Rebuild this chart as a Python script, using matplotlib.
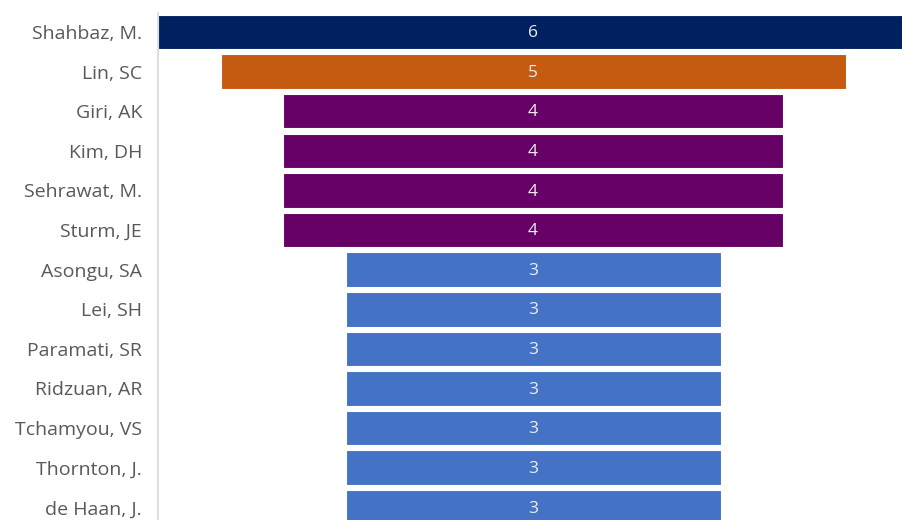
import matplotlib
matplotlib.use("Agg")
import matplotlib.pyplot as plt

# publication counts per author, drawn as a centred funnel
authors = ["Shahbaz, M.", "Lin, SC", "Giri, AK", "Kim, DH", "Sehrawat, M.",
           "Sturm, JE", "Asongu, SA", "Lei, SH", "Paramati, SR", "Ridzuan, AR",
           "Tchamyou, VS", "Thornton, J.", "de Haan, J."]
counts = [6, 5, 4, 4, 4, 4, 3, 3, 3, 3, 3, 3, 3]
colors = ["#002060", "#C55A11", "#660066", "#660066", "#660066", "#660066",
          "#4472C4", "#4472C4", "#4472C4", "#4472C4", "#4472C4", "#4472C4", "#4472C4"]

W, H = 902, 520
fig = plt.figure(figsize=(W / 100, H / 100), dpi=100)
ax = fig.add_axes([158 / W, 0, (W - 158) / W, (H - 13) / H])

ypos = list(range(len(authors)))
lefts = [-c / 2 for c in counts]
bars = ax.barh(ypos, counts, left=lefts, height=0.87, color=colors,
               edgecolor="white", linewidth=0.8)

for y, c in zip(ypos, counts):
    ax.text(0, y + 0.03, str(c), ha="center", va="center", color="#EDEDF2",
            fontsize=12.5, family="Open Sans")

ax.set_xlim(-3.0, 2.952)
ax.set_ylim(12.32, -0.48)
ax.set_yticks(ypos)
ax.set_yticklabels(authors, fontsize=14, color="#595959", family="Open Sans")
ax.tick_params(axis="y", length=0, pad=11.5)
ax.set_xticks([])
for side in ("top", "right", "bottom"):
    ax.spines[side].set_visible(False)
ax.spines["left"].set_color("#D9D9D9")
ax.spines["left"].set_linewidth(1.2)

fig.savefig("out.png", dpi=100, facecolor="white")
